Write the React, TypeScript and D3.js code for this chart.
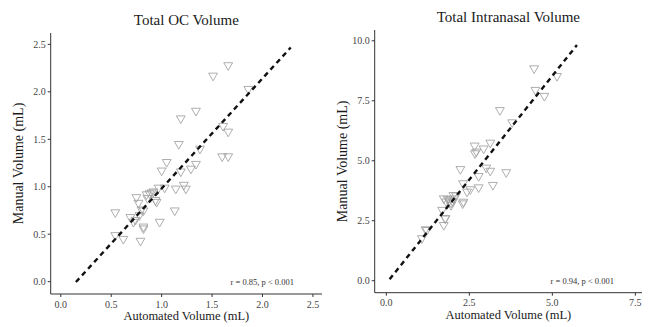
import React from 'react';
import * as d3 from 'd3';

// Total OC Volume: automated (x) vs manual (y), mL
const ocAuto = [1.66, 1.51, 1.86, 1.34, 1.19, 1.61, 1.66, 1.17, 1.38, 1.60, 1.66, 1.05, 1.34, 1.29, 1.00, 1.19,
  1.22, 1.24, 1.14, 0.97, 1.03, 0.90, 0.85, 0.75, 0.95, 0.77, 1.13, 0.54, 0.82, 0.69, 0.74, 0.98, 0.82, 0.54,
  0.62, 0.79, 0.94, 0.88, 0.80, 0.72, 0.82, 0.78, 0.92, 0.86];
const ocManual = [2.28, 2.17, 2.03, 1.80, 1.72, 1.64, 1.58, 1.45, 1.40, 1.32, 1.32, 1.26, 1.24, 1.19, 1.17, 1.16,
  1.02, 0.98, 0.98, 0.99, 0.99, 0.94, 0.92, 0.89, 0.84, 0.83, 0.75, 0.73, 0.75, 0.68, 0.65, 0.63, 0.58, 0.49,
  0.45, 0.43, 0.86, 0.93, 0.76, 0.63, 0.56, 0.70, 0.95, 0.88];

// Total Intranasal Volume
const inAuto = [4.45, 5.14, 4.49, 4.76, 3.42, 3.79, 2.66, 2.71, 3.13, 2.93, 2.23, 3.01, 3.13, 3.61, 2.78, 2.31,
  3.21, 2.78, 2.53, 2.43, 2.03, 1.73, 2.30, 1.68, 1.78, 1.73, 1.18, 1.07, 1.22, 2.67, 1.90, 1.95, 2.00, 1.85,
  2.10, 1.95, 1.80, 2.02, 2.32, 1.77];
const inManual = [8.85, 8.53, 7.95, 7.70, 7.11, 6.60, 5.63, 5.38, 5.75, 5.51, 4.65, 4.71, 4.58, 4.52, 4.36, 4.06,
  3.99, 3.89, 3.81, 3.71, 3.43, 3.43, 3.22, 2.95, 2.60, 2.32, 2.14, 1.77, 2.11, 5.31, 3.35, 3.25, 3.30, 3.40,
  3.55, 3.15, 3.30, 3.57, 3.29, 2.60];

const ocTicks = [0, 0.5, 1, 1.5, 2, 2.5];
const inTicksX = [0, 2.5, 5, 7.5];
const inTicksY = [0, 2.5, 5, 7.5, 10];

const W = 654;
const H = 327;
const font = '"Liberation Serif", "Times New Roman", serif';

type PanelProps = {
  title: string;
  xs: number[];
  ys: number[];
  xDomain: [number, number];
  yDomain: [number, number];
  left: number;
  right: number;
  top: number;
  bottom: number;
  xTicks: number[];
  yTicks: number[];
  fit: { x0: number; x1: number; slope: number; intercept: number };
  note: string;
  titleY: number;
  yLabelX: number;
};

const tri = d3.symbol().type(d3.symbolTriangle).size(34)() || '';

const Panel = (p: PanelProps) => {
  const x = d3.scaleLinear().domain(p.xDomain).range([p.left, p.right]);
  const y = d3.scaleLinear().domain(p.yDomain).range([p.bottom, p.top]);
  const fmt = d3.format('.1f');
  const cx = (p.left + p.right) / 2;
  const cy = (p.top + p.bottom) / 2;
  const line = d3.line<number>()
    .x(d => x(d))
    .y(d => y(p.fit.slope * d + p.fit.intercept));

  return (
    <g fontFamily={font}>
      <text x={cx} y={p.titleY} textAnchor="middle" fontSize={15} fill="#1a1a1a">{p.title}</text>

      {/* points */}
      {p.xs.map((v, i) => (
        <path key={i} d={tri} transform={`translate(${x(v)},${y(p.ys[i])}) rotate(180)`}
          fill="none" stroke="#a0a0a0" strokeWidth={1} opacity={0.85} />
      ))}

      <path d={line([p.fit.x0, p.fit.x1]) || ''} fill="none" stroke="#111" strokeWidth={2.4}
        strokeDasharray="5,4" />

      {/* axes */}
      <line x1={p.left} x2={p.right} y1={p.bottom} y2={p.bottom} stroke="#333" strokeWidth={1} />
      <line x1={p.left} x2={p.left} y1={p.top} y2={p.bottom} stroke="#333" strokeWidth={1} />
      {p.xTicks.map(t => (
        <g key={t} transform={`translate(${x(t)},${p.bottom})`}>
          <line y2={3} stroke="#333" />
          <text y={13.5} textAnchor="middle" fontSize={10} fill="#444">{fmt(t)}</text>
        </g>
      ))}
      {p.yTicks.map(t => (
        <g key={t} transform={`translate(${p.left},${y(t)})`}>
          <line x2={-3} stroke="#333" />
          <text x={-5} dy="0.33em" textAnchor="end" fontSize={10} fill="#444">{fmt(t)}</text>
        </g>
      ))}

      <text x={cx} y={p.bottom + 26} textAnchor="middle" fontSize={12.5} fill="#1a1a1a">Automated Volume (mL)</text>
      <text transform={`translate(${p.yLabelX},${cy}) rotate(-90)`} textAnchor="middle" fontSize={14}
        fill="#1a1a1a">Manual Volume (mL)</text>
      <text x={p.right - 28} y={p.bottom - 9} textAnchor="end" fontSize={8.5} fill="#333">{p.note}</text>
    </g>
  );
};

const App = () => (
  <svg width={W} height={H} style={{ position: 'absolute', left: 0, top: 0, background: '#fff' }}>
    <Panel title="Total OC Volume" xs={ocAuto} ys={ocManual}
      xDomain={[-0.1, 2.59]} yDomain={[-0.13, 2.62]}
      left={50.7} right={322} top={33} bottom={294}
      xTicks={ocTicks} yTicks={ocTicks}
      fit={{ x0: 0.15, x1: 2.28, slope: 1.16, intercept: -0.178 }}
      note="r = 0.85, p < 0.001" titleY={25} yLabelX={23} />
    <Panel title="Total Intranasal Volume" xs={inAuto} ys={inManual}
      xDomain={[-0.35, 7.7]} yDomain={[-0.5, 10.45]}
      left={374.7} right={642} top={30} bottom={292.7}
      xTicks={inTicksX} yTicks={inTicksY}
      fit={{ x0: 0.1, x1: 5.74, slope: 1.73, intercept: -0.11 }}
      note="r = 0.94, p < 0.001" titleY={22} yLabelX={347} />
  </svg>
);

export default App;
